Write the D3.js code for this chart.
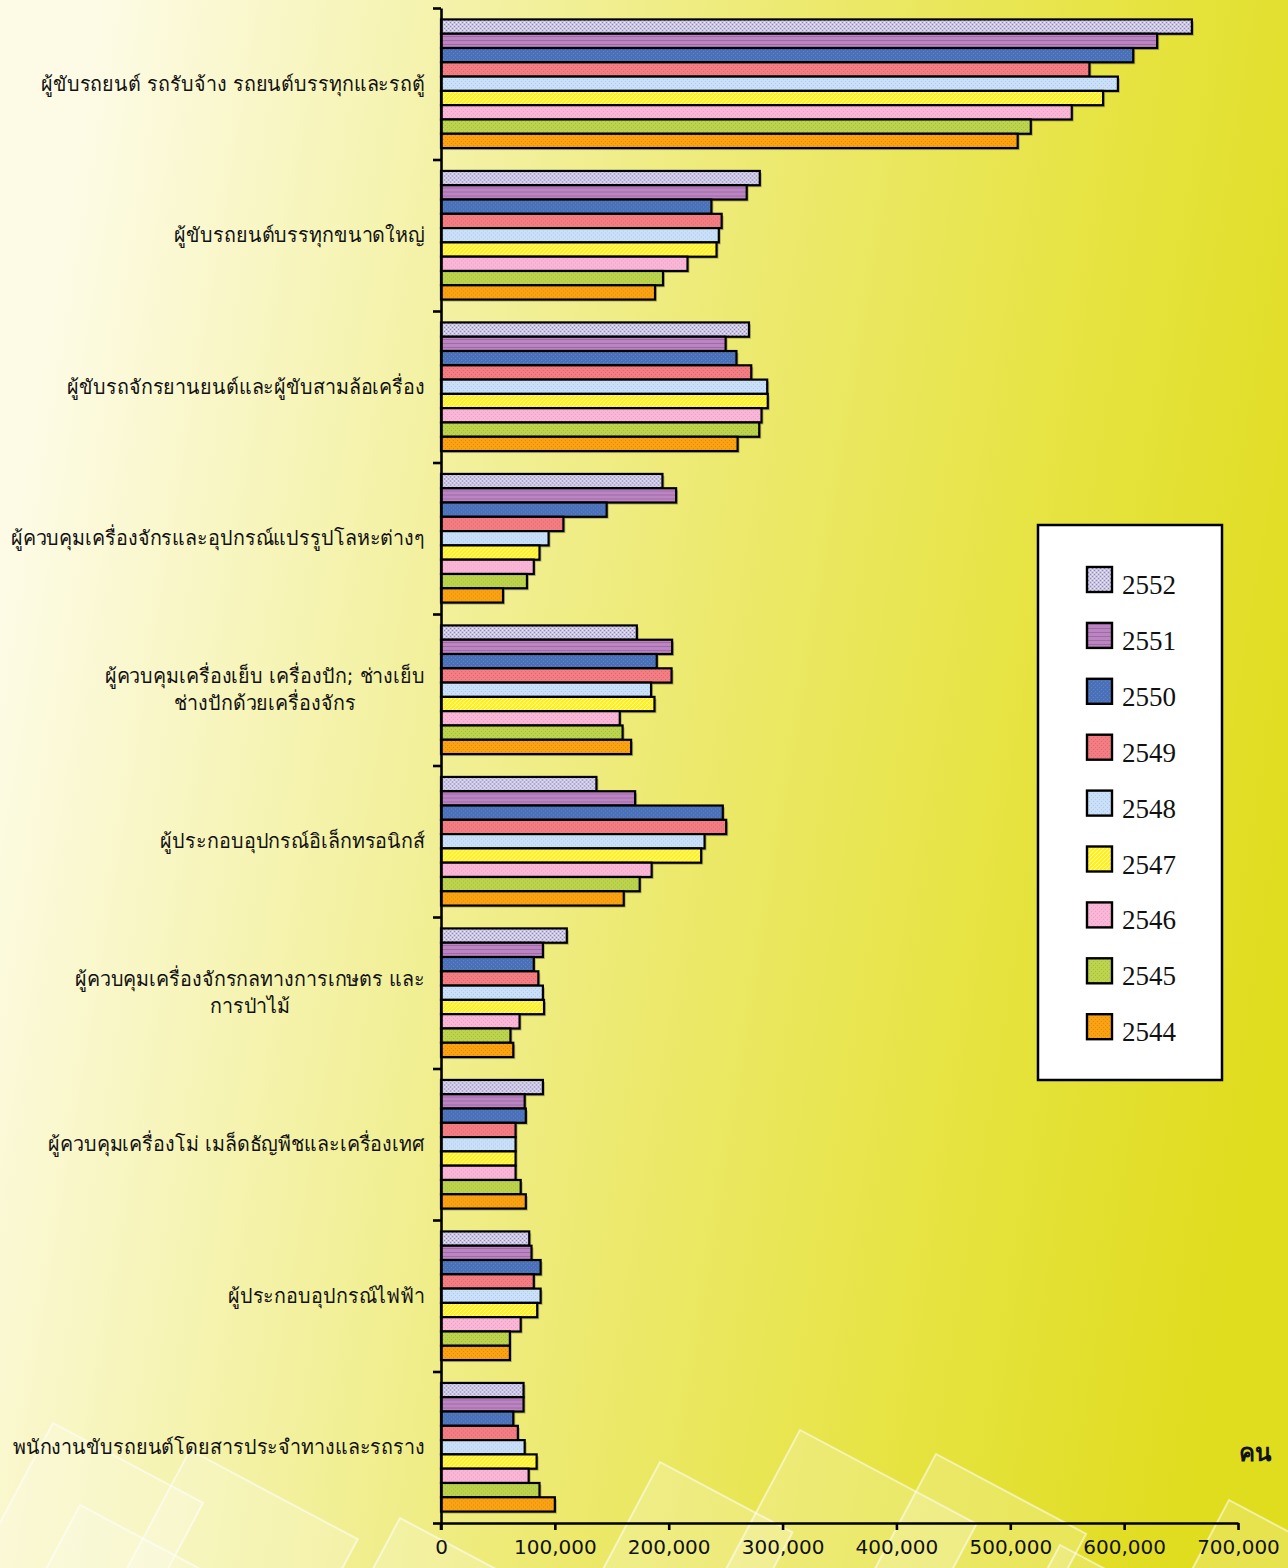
<!DOCTYPE html>
<html>
<head>
<meta charset="utf-8">
<script src="https://cdn.jsdelivr.net/npm/d3@7"></script>
<style>
  html, body { margin: 0; padding: 0; background: #ffffff; }
  svg { display: block; }
</style>
</head>
<body>
<svg id="chart" width="1288" height="1568"></svg>
<script>
// ---------- data ----------
const categories = [
  "ผู้ขับรถยนต์ รถรับจ้าง รถยนต์บรรทุกและรถตู้",
  "ผู้ขับรถยนต์บรรทุกขนาดใหญ่",
  "ผู้ขับรถจักรยานยนต์และผู้ขับสามล้อเครื่อง",
  "ผู้ควบคุมเครื่องจักรและอุปกรณ์แปรรูปโลหะต่างๆ",
  "ผู้ควบคุมเครื่องเย็บ เครื่องปัก; ช่างเย็บ|ช่างปักด้วยเครื่องจักร",
  "ผู้ประกอบอุปกรณ์อิเล็กทรอนิกส์",
  "ผู้ควบคุมเครื่องจักรกลทางการเกษตร และ|การป่าไม้",
  "ผู้ควบคุมเครื่องโม่ เมล็ดธัญพืชและเครื่องเทศ",
  "ผู้ประกอบอุปกรณ์ไฟฟ้า",
  "พนักงานขับรถยนต์โดยสารประจำทางและรถราง"
];
const years = ["2552", "2551", "2550", "2549", "2548", "2547", "2546", "2545", "2544"];
const v2552 = [659500, 280000, 270500, 194500, 172000, 136500, 110500, 89500, 77500, 72500];
const v2551 = [629000, 268500, 250000, 206500, 203000, 170500, 89500, 73500, 79500, 72500];
const v2550 = [608000, 237500, 259500, 145500, 189500, 247500, 81500, 74500, 87500, 63500];
const v2549 = [569500, 246500, 272500, 107500, 202500, 250500, 85500, 65500, 81500, 67500];
const v2548 = [594500, 244000, 286500, 94500, 184500, 231500, 89500, 65500, 87500, 73500];
const v2547 = [581500, 242000, 287000, 86500, 187500, 228500, 90500, 65500, 84500, 84000];
const v2546 = [554000, 216500, 281500, 81500, 157000, 185000, 69000, 65500, 70000, 77000];
const v2545 = [518000, 195000, 279500, 75500, 159500, 174500, 61000, 70000, 60500, 86500];
const v2544 = [506500, 188000, 260500, 54500, 167000, 160500, 63500, 74500, 60500, 100000];
const seriesValues = [v2552, v2551, v2550, v2549, v2548, v2547, v2546, v2545, v2544];
const xTicks = [0, 100000, 200000, 300000, 400000, 500000, 600000, 700000];
const unitLabel = "คน";

// ---------- styles ----------
const fills = {
  "2552": { base: "#cbc5e4", dot: "#8f89b8", kind: "check" },
  "2551": { base: "#bb85c2", dot: "#a06aa9", kind: "hstripe" },
  "2550": { base: "#4a70b8", dot: "#5d84c8", kind: "dots" },
  "2549": { base: "#f27d82", dot: "#e3676e", kind: "dots" },
  "2548": { base: "#c9e0f8", dot: "#aecbea", kind: "dots" },
  "2547": { base: "#fff01e", dot: "#fffbb0", kind: "diag" },
  "2546": { base: "#f9b6d6", dot: "#eea0c4", kind: "dots" },
  "2545": { base: "#bcd34e", dot: "#a5bf38", kind: "dots" },
  "2544": { base: "#f9a314", dot: "#e68a00", kind: "dots" }
};

const svg = d3.select("#chart");
const W = 1288, H = 1568;
const defs = svg.append("defs");

// background gradient (mostly horizontal)
const bg = defs.append("linearGradient").attr("id", "bggrad")
  .attr("x1", "0%").attr("y1", "40%").attr("x2", "100%").attr("y2", "60%");
bg.append("stop").attr("offset", "0%").attr("stop-color", "#fdfbe5");
bg.append("stop").attr("offset", "33%").attr("stop-color", "#f2f09a");
bg.append("stop").attr("offset", "54%").attr("stop-color", "#ece96c");
bg.append("stop").attr("offset", "78%").attr("stop-color", "#e6e340");
bg.append("stop").attr("offset", "100%").attr("stop-color", "#e0dc1e");

// patterns
years.forEach(yr => {
  const f = fills[yr];
  const p = defs.append("pattern").attr("id", "pat" + yr)
    .attr("patternUnits", "userSpaceOnUse").attr("width", 4).attr("height", 4);
  p.append("rect").attr("width", 4).attr("height", 4).attr("fill", f.base);
  if (f.kind === "check") {
    p.append("rect").attr("x", 0).attr("y", 0).attr("width", 1).attr("height", 1).attr("fill", f.dot);
    p.append("rect").attr("x", 2).attr("y", 2).attr("width", 1).attr("height", 1).attr("fill", f.dot);
    p.append("rect").attr("x", 2).attr("y", 0).attr("width", 1).attr("height", 1).attr("fill", "#eeeaf8");
    p.append("rect").attr("x", 0).attr("y", 2).attr("width", 1).attr("height", 1).attr("fill", "#eeeaf8");
  } else if (f.kind === "hstripe") {
    p.append("rect").attr("x", 0).attr("y", 0).attr("width", 4).attr("height", 1).attr("fill", f.dot);
  } else if (f.kind === "diag") {
    [[0, 3], [1, 2], [2, 1], [3, 0]].forEach(([a, b]) =>
      p.append("rect").attr("x", a).attr("y", b).attr("width", 1).attr("height", 1).attr("fill", f.dot));
  } else {
    p.append("rect").attr("x", 1).attr("y", 1).attr("width", 1).attr("height", 1).attr("fill", f.dot);
    p.append("rect").attr("x", 3).attr("y", 3).attr("width", 1).attr("height", 1).attr("fill", f.dot);
  }
});

svg.append("rect").attr("width", W).attr("height", H).attr("fill", "url(#bggrad)");

// decorative translucent squares
const deco = [
  [53, 1423, 170], [80, 1505, 150], [190, 1450, 190], [400, 1518, 160],
  [660, 1462, 150], [800, 1430, 200], [936, 1454, 170], [1229, 1500, 150], [1060, 1545, 140]
];
const decoG = svg.append("g");
deco.forEach(d => {
  decoG.append("rect")
    .attr("transform", `translate(${d[0]},${d[1]}) rotate(28)`)
    .attr("width", d[2]).attr("height", d[2])
    .attr("fill", "#ffffff").attr("fill-opacity", 0.22)
    .attr("stroke", "#ffffff").attr("stroke-opacity", 0.55).attr("stroke-width", 2);
});

// ---------- scales ----------
const x0 = 441, x1 = 1238, yTop = 8, yBot = 1523;
const x = d3.scaleLinear().domain([0, 700000]).range([x0, x1]);
const y = d3.scaleBand().domain(categories).range([yTop, yBot]).padding(0);
const yInner = d3.scaleBand().domain(years).range([0, y.bandwidth()]).paddingInner(0).paddingOuter(0.8);

// ---------- bars ----------
const groups = svg.append("g").selectAll("g").data(categories).join("g")
  .attr("transform", c => `translate(0,${y(c)})`);

groups.each(function(c, ci) {
  const g = d3.select(this);
  const data = years.map((yr, si) => ({ yr, v: seriesValues[si][ci] }));
  g.selectAll("rect.shadow").data(data).join("rect").attr("class", "shadow")
    .attr("x", x(0) + 2).attr("y", d => yInner(d.yr) + 2)
    .attr("width", d => x(d.v) - x(0)).attr("height", yInner.bandwidth())
    .attr("fill", "#000").attr("opacity", 0.25);
  g.selectAll("rect.bar").data(data).join("rect").attr("class", "bar")
    .attr("x", x(0)).attr("y", d => yInner(d.yr))
    .attr("width", d => x(d.v) - x(0)).attr("height", yInner.bandwidth())
    .attr("fill", d => `url(#pat${d.yr})`)
    .attr("stroke", "#000").attr("stroke-width", 2.2);
});

// ---------- axes ----------
const xAxis = d3.axisBottom(x).tickValues(xTicks).tickFormat(d3.format(",")).tickSize(7).tickSizeOuter(0);
const gx = svg.append("g").attr("transform", `translate(0,${yBot})`).call(xAxis);
gx.select(".domain").attr("stroke", "#000").attr("stroke-width", 2.6);
gx.selectAll(".tick line").attr("stroke", "#000").attr("stroke-width", 2.6);
gx.selectAll(".tick text").attr("font-family", "'DejaVu Sans', sans-serif")
  .attr("font-size", 20).attr("fill", "#111").attr("dy", "1.05em").attr("y", 10);

const yb = d3.scaleLinear().domain([0, categories.length]).range([yTop, yBot]);
const yAxis = d3.axisLeft(yb).tickValues(d3.range(0, categories.length + 1)).tickFormat("").tickSize(8).tickSizeOuter(0);
const gy = svg.append("g").attr("transform", `translate(${x0},0)`).call(yAxis);
gy.select(".domain").attr("stroke", "#000").attr("stroke-width", 2.6);
gy.selectAll(".tick line").attr("stroke", "#000").attr("stroke-width", 2.6);
svg.append("line").attr("x1", x0).attr("x2", x0).attr("y1", yBot).attr("y2", yBot + 7)
  .attr("stroke", "#000").attr("stroke-width", 2.6);

// ---------- category labels ----------
const labelFont = "Tahoma, 'DejaVu Sans', 'Noto Sans', sans-serif";
const labelRight = 425;
const labelG = svg.append("g")
  .attr("transform", `translate(${labelRight},0) scale(0.982,1) translate(${-labelRight},0)`);
categories.forEach(c => {
  const lines = c.split("|");
  const cy = y(c) + y.bandwidth() / 2;
  const lh = 27;
  const tg = labelG.append("g");
  const texts = lines.map((ln, i) => tg.append("text")
    .attr("font-family", labelFont).attr("font-size", 20).attr("fill", "#111")
    .attr("y", cy + (i - (lines.length - 1) / 2) * lh)
    .attr("dy", "0.35em").text(ln));
  const maxW = d3.max(texts, t => t.node().getComputedTextLength());
  texts.forEach(t => t.attr("x", labelRight - maxW / 2).attr("text-anchor", "middle"));
});

// ---------- legend ----------
const lg = svg.append("g");
lg.append("rect").attr("x", 1038).attr("y", 525).attr("width", 184).attr("height", 555)
  .attr("fill", "#ffffff").attr("stroke", "#000").attr("stroke-width", 2.5);
years.forEach((yr, i) => {
  lg.append("rect").attr("x", 1087).attr("y", 567 + 55.9 * i).attr("width", 25).attr("height", 25)
    .attr("fill", `url(#pat${yr})`).attr("stroke", "#000").attr("stroke-width", 2.4);
  lg.append("text").attr("x", 1122).attr("y", 594 + 55.9 * i)
    .attr("font-family", "'Liberation Serif', 'Times New Roman', serif").attr("font-size", 27)
    .attr("fill", "#111").text(yr);
});

// unit label
svg.append("text").attr("x", 1255).attr("y", 1461).attr("text-anchor", "middle")
  .attr("font-family", labelFont).attr("font-size", 24).attr("font-weight", "bold")
  .attr("fill", "#111").text(unitLabel);
</script>
</body>
</html>
